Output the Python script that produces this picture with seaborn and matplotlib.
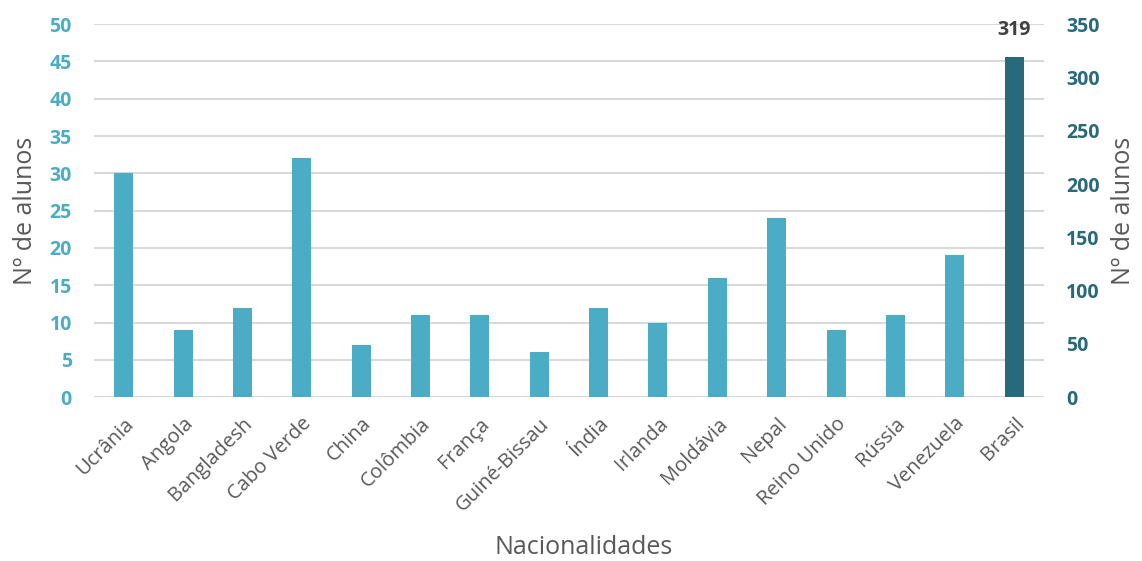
import matplotlib
matplotlib.use("Agg")
import matplotlib.pyplot as plt
import seaborn as sns
import pandas as pd
import numpy as np

categorias = ["Ucrânia", "Angola", "Bangladesh", "Cabo Verde", "China", "Colômbia",
              "França", "Guiné-Bissau", "Índia", "Irlanda", "Moldávia", "Nepal",
              "Reino Unido", "Rússia", "Venezuela", "Brasil"]
paises_esq = categorias[:-1]
alunos_esq = [30, 9, 12, 32, 7, 11, 11, 6, 12, 10, 16, 24, 9, 11, 19]
paises_dir = ["Brasil"]
alunos_dir = [319]

cor_clara = "#4BACC6"
cor_escura = "#276A7B"
cinza = "#595959"

sns.set_theme(style="white")
plt.rcParams['font.family'] = ['Open Sans', 'DejaVu Sans']

fig = plt.figure(figsize=(11.42, 5.61), dpi=100)
ax = fig.add_axes([0.0823, 0.292, 0.8318, 0.665])
ax2 = ax.twinx()

df_esq = pd.DataFrame({"pais": paises_esq, "alunos": alunos_esq})
df_dir = pd.DataFrame({"pais": paises_dir, "alunos": alunos_dir})

sns.barplot(data=df_esq, x="pais", y="alunos", order=categorias, color=cor_clara,
            width=0.32, saturation=1, linewidth=0, ax=ax)
sns.barplot(data=df_dir, x="pais", y="alunos", order=categorias, color=cor_escura,
            width=0.32, saturation=1, linewidth=0, ax=ax2)

ax.set_xlim(-0.5, len(categorias) - 0.5)
ax.set_ylim(0, 50)
ax2.set_ylim(0, 350)
ax.set_yticks(np.arange(0, 51, 5))
ax2.set_yticks(np.arange(0, 351, 50))

ax.grid(axis="y", color="#D9D9D9", linewidth=1.5)
ax.set_axisbelow(True)
ax2.grid(False)
for a in (ax, ax2):
    for s in a.spines.values():
        s.set_visible(False)

ax.tick_params(axis="y", length=0, pad=16, labelsize=14, labelcolor=cor_clara)
for t in ax.get_yticklabels():
    t.set_fontweight("bold")
ax2.tick_params(axis="y", length=0, pad=16, labelsize=14, labelcolor=cor_escura)
for t in ax2.get_yticklabels():
    t.set_fontweight("bold")

ax.set_xticks(range(len(categorias)))
ax.set_xticklabels(categorias, rotation=45, ha="right", rotation_mode="anchor",
                   fontsize=14.5, color=cinza)
ax.tick_params(axis="x", length=0, pad=12)

ax.set_xlabel("Nacionalidades", fontsize=18, color=cinza)
ax.xaxis.set_label_coords(0.515, -0.37)
ax.set_ylabel("Nº de alunos", fontsize=18, color=cinza, labelpad=8)
ax2.set_ylabel("Nº de alunos", fontsize=18, color=cinza, labelpad=8)

for cont in ax2.containers:
    ax2.bar_label(cont, labels=[str(v) for v in alunos_dir], padding=12,
                  fontsize=14, fontweight="bold", color="#404040")

fig.savefig("out.png", dpi=100)
